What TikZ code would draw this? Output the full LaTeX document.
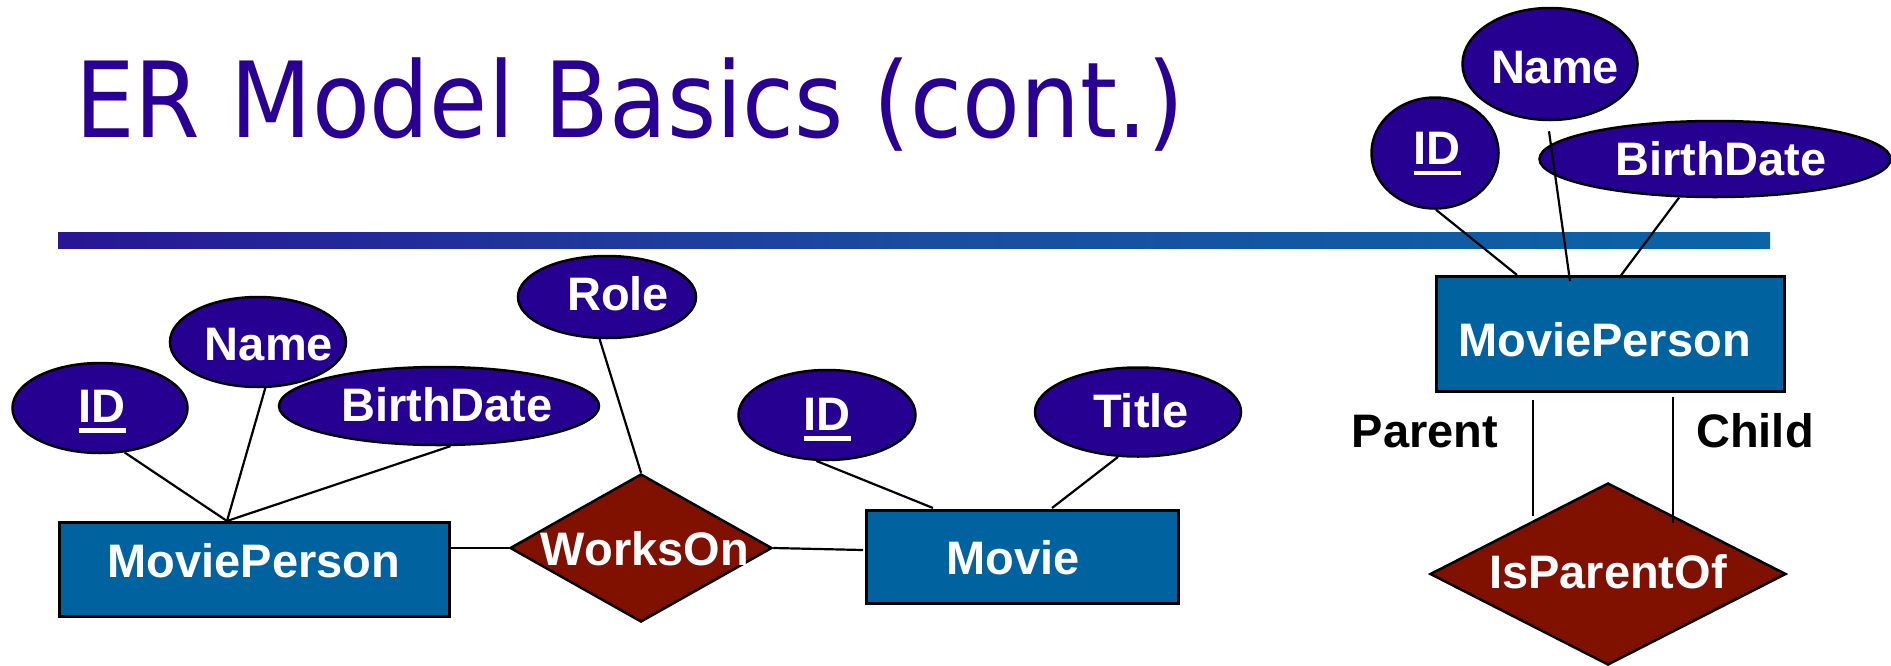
\documentclass[tikz,border=0pt]{standalone}
\usepackage{graphicx}
\usepackage{fontspec}
\setmainfont{Liberation Sans}
\newfontfamily\titlefont{DejaVu Sans}
\usetikzlibrary{shapes.geometric}
\definecolor{titlecol}{RGB}{42,0,146}
\definecolor{attrcol}{RGB}{38,0,145}
\definecolor{entcol}{RGB}{0,99,160}
\definecolor{relcol}{RGB}{128,16,0}
\definecolor{barleft}{RGB}{40,22,148}
\definecolor{barmid}{RGB}{26,76,160}
\definecolor{barright}{RGB}{10,100,166}
\newsavebox{\pkbox}
\newcommand{\pkey}[1]{\sbox{\pkbox}{#1}\rlap{\smash{\rule[-10.5pt]{\wd\pkbox}{4.3pt}}}\usebox{\pkbox}}
\begin{document}
\begin{tikzpicture}[x=1pt,y=-1pt,
  lbl/.style={inner sep=0pt, text=white, font=\fontsize{47}{56}\selectfont\bfseries},
  rolelbl/.style={inner sep=0pt, text=black, font=\fontsize{47}{56}\selectfont\bfseries},
  attr/.style={ellipse, draw=black, line width=2.5pt, fill=attrcol, inner sep=0pt},
  entity/.style={rectangle, draw=black, line width=3pt, fill=entcol, inner sep=0pt},
  rel/.style={diamond, draw=black, line width=2.5pt, fill=relcol, inner sep=0pt},
  conn/.style={draw=black, line width=2.2pt}]
\useasboundingbox (0,0) rectangle (1891,665);

% title and bar
\node[anchor=base west, inner sep=0pt, text=titlecol, font=\titlefont\fontsize{105}{120}\selectfont] (ttl) at (75,137) {\scalebox{0.9}[1]{ER Model Basics (cont.)}};
\fill[left color=barleft, right color=barright, middle color=barmid] (58,232) rectangle (1770,248);

% left diagram
\node[attr, minimum width=175pt, minimum height=90pt,
  label={[lbl,shift={(2,-2)}]center:\pkey{ID}}] (lid) at (100,408) {};
\node[attr, minimum width=176pt, minimum height=90pt,
  label={[lbl,shift={(11,3)}]center:Name}] (lname) at (258,342) {};
\node[attr, minimum width=320pt, minimum height=78pt,
  label={[lbl,shift={(8,-1)}]center:BirthDate}] (lbd) at (439,406) {};
\node[attr, minimum width=178pt, minimum height=82pt,
  label={[lbl,shift={(11,-3)}]center:Role}] (role) at (607,297) {};
\node[entity, minimum width=390pt, minimum height=94pt,
  label={[lbl,shift={(0,-8)}]center:MoviePerson}] (lmp) at (254,569) {};
\node[rel, minimum width=262pt, minimum height=148pt,
  label={[lbl,shift={(4,1)}]center:WorksOn}] (wo) at (641,548) {};
\node[attr, minimum width=177pt, minimum height=90pt,
  label={[lbl,shift={(0,-1)}]center:\pkey{ID}}] (mid) at (827,415) {};
\node[attr, minimum width=206pt, minimum height=89pt,
  label={[lbl,shift={(3,-1)}]center:Title}] (mtitle) at (1138,412) {};
\node[entity, minimum width=312pt, minimum height=93pt,
  label={[lbl,shift={(-9,1.5)}]center:Movie}] (movie) at (1022,556.5) {};

% right diagram
\node[attr, minimum width=127pt, minimum height=111pt,
  label={[lbl,shift={(2,-4.5)}]center:\pkey{ID}}] (rid) at (1435,153) {};
\node[attr, minimum width=175pt, minimum height=112pt,
  label={[lbl,shift={(5,3.5)}]center:Name}] (rname) at (1550,64) {};
\node[attr, minimum width=351pt, minimum height=76pt,
  label={[lbl,shift={(6,0)}]center:BirthDate}] (rbd) at (1715,159) {};
\node[entity, minimum width=348pt, minimum height=115pt,
  label={[lbl,shift={(-5.5,6.5)}]center:MoviePerson}] (rmp) at (1610,333.5) {};
\node[rel, minimum width=356pt, minimum height=182pt,
  label={[lbl,shift={(0,-2)}]center:IsParentOf}] (ipo) at (1608,574) {};
\node[rolelbl] (parent) at (1425,432) {Parent};
\node[rolelbl] (child) at (1755,431) {Child};

% connector end points on the entities
\coordinate (j1) at (227,521);
\coordinate (mvl) at (863,550);
\coordinate (mv1) at (933,508);
\coordinate (mv2) at (1052,508);
\coordinate (r1) at (1517,275);
\coordinate (r2) at (1570,281);
\coordinate (r3) at (1619,278);
\coordinate (p1) at (1533,400);
\coordinate (p2) at (1533,516);
\coordinate (c1) at (1673,397);
\coordinate (c2) at (1673,523);

% connectors
\draw[conn] (lid.-61) -- (j1);
\draw[conn] (lname.-81) -- (j1);
\draw[conn] (lbd.-74) -- (j1);
\draw[conn] (role.-100) -- (wo.north);
\draw[conn] (lmp.east |- wo.west) -- (wo.west);
\draw[conn] (wo.east) -- (mvl);
\draw[conn] (mid.-103) -- (mv1);
\draw[conn] (mtitle.-114) -- (mv2);
\draw[conn] (rid.-89) -- (r1);
\draw[conn] ([xshift=-1pt,yshift=-10pt]rname.south) -- (r2);
\draw[conn] (rbd.-133) -- (r3);
\draw[conn] (p1) -- (p2);
\draw[conn] (c1) -- (c2);
\end{tikzpicture}
\end{document}
